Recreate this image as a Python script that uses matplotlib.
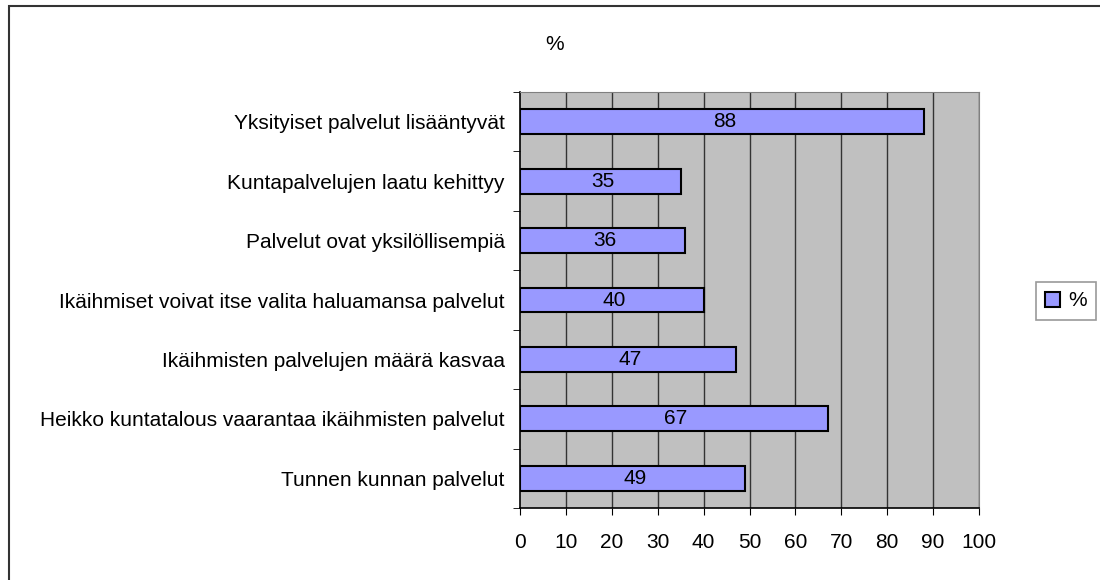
import matplotlib
matplotlib.use('Agg')
import matplotlib.pyplot as plt
from matplotlib.patches import Rectangle

plt.rcParams['font.family'] = ['Liberation Sans', 'DejaVu Sans']

categories = ['Yksityiset palvelut lisääntyvät',
              'Kuntapalvelujen laatu kehittyy',
              'Palvelut ovat yksilöllisempiä',
              'Ikäihmiset voivat itse valita haluamansa palvelut',
              'Ikäihmisten palvelujen määrä kasvaa',
              'Heikko kuntatalous vaarantaa ikäihmisten palvelut',
              'Tunnen kunnan palvelut']
values = [88, 35, 36, 40, 47, 67, 49]
xticks = [0, 10, 20, 30, 40, 50, 60, 70, 80, 90, 100]

fs = 15

fig = plt.figure(figsize=(11, 5.8), dpi=100)
ax = fig.add_axes([520/1100, 72/580, 459/1100, 416/580])
ax.set_facecolor('#c0c0c0')

pos = list(range(len(categories)))
bars = ax.barh(pos, values, height=0.42, color='#9999ff', edgecolor='black',
               linewidth=1.5, label='%', zorder=3)
for b, v in zip(bars, values):
    ax.text(v / 2 + 0.5, b.get_y() + b.get_height() / 2, str(v), ha='center',
            va='center', fontsize=fs, zorder=4)

ax.set_ylim(len(categories) - 0.5, -0.5)
ax.set_xlim(0, 100)
ax.set_xticks(xticks)
ax.set_xticklabels([str(t) for t in xticks], fontsize=fs)
ax.set_yticks(pos)
ax.set_yticklabels(categories, fontsize=fs)
ax.tick_params(axis='y', length=0, pad=11)
ax.set_yticks([p + 0.5 for p in pos[:-1]] + [-0.5, len(categories) - 0.5], minor=True)
ax.tick_params(axis='y', which='minor', length=5, color='black', direction='out')
ax.tick_params(axis='x', length=5, direction='out', pad=13)

for t in xticks[1:]:
    ax.axvline(t, color='#333333', linewidth=1.0, zorder=1)
for side in ['top', 'right']:
    ax.spines[side].set_color('#808080')
ax.spines['left'].set_color('black')
ax.spines['bottom'].set_color('black')
ax.spines['left'].set_linewidth(1.2)
ax.spines['bottom'].set_linewidth(1.2)

fig.text(555/1100, 1 - 45/580, '%', ha='center', va='center', fontsize=fs)

leg = fig.legend(handles=[bars], labels=['%'], loc='center',
                 bbox_to_anchor=(1066/1100, 1 - 301/580), fontsize=fs,
                 frameon=True, fancybox=False, edgecolor='#808080',
                 handlelength=0.7, handleheight=0.7, handletextpad=0.4,
                 borderpad=0.45)
leg.get_frame().set_linewidth(1.2)

fig.patches.append(Rectangle((9/1100, -0.05), 1.1, 1.05 - 6/580,
                             transform=fig.transFigure, fill=False,
                             edgecolor='#333333', linewidth=1.5))

plt.savefig('out.png', dpi=100)
